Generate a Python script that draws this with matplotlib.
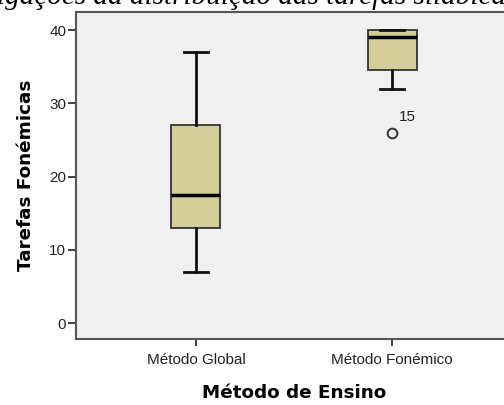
import matplotlib
matplotlib.use("Agg")
import matplotlib.pyplot as plt

categories = ["Método Global", "Método Fonémico"]
whisker_low = [7, 32]
q1 = [13, 34.5]
medians = [17.5, 39]
q3 = [27, 40]
whisker_high = [37, 40]
outliers = [[], [26]]
outlier_labels = [[], ["15"]]
y_ticks = [0, 10, 20, 30, 40]

fig = plt.figure(figsize=(5.04, 4.05), dpi=100)
ax = fig.add_axes([76/504, 66/405, 436/504, 327/405])
ax.set_facecolor("#F0F0F0")

stats = []
for i in range(len(categories)):
    stats.append(dict(label=categories[i], whislo=whisker_low[i], q1=q1[i], med=medians[i],
                      q3=q3[i], whishi=whisker_high[i], fliers=outliers[i]))

positions = list(range(len(categories)))
ax.bxp(stats, positions=positions, widths=0.25, patch_artist=True,
       boxprops=dict(facecolor="#D3CE97", edgecolor="#333333", linewidth=1.3),
       medianprops=dict(color="black", linewidth=2.5),
       whiskerprops=dict(color="#111111", linewidth=2),
       capprops=dict(color="#111111", linewidth=2),
       flierprops=dict(marker="o", markerfacecolor="none", markeredgecolor="#333333",
                       markersize=7, markeredgewidth=1.4))

for i in range(len(categories)):
    for v, lab in zip(outliers[i], outlier_labels[i]):
        ax.text(positions[i] + 0.077, v + 2.1, lab, fontsize=11, ha="center", va="center",
                family="Liberation Sans", color="#222222")

ax.set_xlim(-0.612, 1.612)
ax.set_ylim(-2.18, 42.46)
ax.set_yticks(y_ticks)
ax.set_yticklabels([str(t) for t in y_ticks], family="Liberation Sans", fontsize=11, color="#222222")
ax.set_xticks(positions)
ax.set_xticklabels(categories, family="Liberation Sans", fontsize=11, color="#222222")
ax.tick_params(axis="y", length=6, width=1.3, color="#333333", pad=1)
ax.tick_params(axis="x", length=5, width=1.3, color="#333333", pad=5)
for s in ax.spines.values():
    s.set_color("#555555")
    s.set_linewidth(1.5)

ax.set_xlabel("Método de Ensino", family="DejaVu Sans", fontsize=13.2, fontweight="bold", labelpad=12)
ax.set_ylabel("Tarefas Fonémicas", family="DejaVu Sans", fontsize=13.2, fontweight="bold", labelpad=10)

fig.text(-0.005, 401/405, "igações da distribuição das tarefas silábicas", family="Liberation Serif",
         style="italic", fontsize=21, va="baseline", ha="left")

fig.savefig("out.png", dpi=100, facecolor="white")
